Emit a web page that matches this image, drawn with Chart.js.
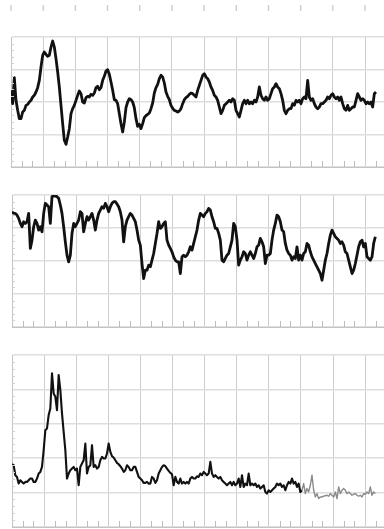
<!DOCTYPE html>
<html><head><meta charset="utf-8">
<script src="https://cdn.jsdelivr.net/npm/chart.js@4.4.0/dist/chart.umd.min.js"></script>
<style>
html,body{margin:0;padding:0;background:#fff;overflow:hidden;}
#wrap{position:relative;width:384px;height:529px;}
canvas{position:absolute;left:0;}
</style></head><body>
<div id="wrap">
<canvas id="c1" width="384" height="172" style="top:0px"></canvas>
<canvas id="c2" width="384" height="156" style="top:176px"></canvas>
<canvas id="c3" width="384" height="189" style="top:340px"></canvas>
</div>
<script>
// Panel 1 series (arbitrary units, bottom axis = 0)
const series1 = [230,190,268,200,170,145,145,165,170,185,188,195,200,210,215,225,238,260,300,335,
345,338,332,335,360,378,360,325,285,240,185,130,80,68,90,115,160,175,185,200,
215,228,220,195,192,208,212,210,218,215,222,238,242,232,238,260,272,288,292,278,
255,230,202,200,190,160,130,105,135,178,195,205,202,195,178,145,122,128,115,130,
148,154,158,162,175,192,222,238,248,265,275,270,252,225,212,202,185,176,170,168,
165,168,175,190,202,208,212,218,222,
220,215,210,230,245,260,275,280,270,265,255,240,230,215,210,200,180,160,170,185,
190,195,200,195,205,200,170,160,150,170,190,200,190,200,190,195,190,200,195,210,
240,215,205,200,210,200,205,220,235,240,250,240,235,220,200,170,160,170,175,175,
190,185,200,195,200,190,205,210,205,260,210,200,205,190,180,175,180,190,190,195,
200,210,205,215,220,210,205,210,200,210,190,175,170,185,170,175,180,180,200,220,
210,200,205,200,190,195,190,195,180,220,225];
// Panel 2 series
const series2 = [345,340,340,335,325,310,300,315,310,315,340,235,260,300,320,310,290,300,285,340,
370,365,360,310,390,392,392,390,385,365,340,300,255,215,195,215,280,310,300,310,
320,345,340,285,310,330,320,330,340,320,290,320,340,350,360,355,370,360,345,360,
370,375,375,368,360,345,320,255,300,320,330,340,335,325,315,290,260,245,190,145,
170,170,185,180,200,220,250,280,315,295,300,310,315,260,245,235,225,210,200,195,
195,160,210,215,210,215,225,240,
230,250,270,290,320,340,335,330,340,345,355,350,330,315,295,295,280,260,200,195,
205,215,220,240,260,310,300,260,185,200,210,225,220,200,215,225,215,205,220,240,
245,265,255,240,190,215,215,220,260,290,310,335,330,315,290,285,250,230,220,215,
200,210,205,240,200,215,200,220,225,250,245,225,210,200,190,180,170,160,140,170,
200,220,250,275,290,280,270,265,260,250,255,245,225,220,200,180,160,170,190,215,
240,255,260,240,250,210,205,200,210,250,270];
// Panel 3 series
const series3 = [188,185,155,150,130,140,135,130,135,135,140,145,145,135,135,145,160,165,180,230,
290,295,335,355,460,400,390,350,455,410,340,285,230,145,160,170,175,180,170,175,
125,180,190,200,250,160,180,185,245,180,185,175,180,200,210,205,205,220,250,225,
212,208,200,192,188,182,175,165,170,185,180,170,170,180,180,165,150,145,140,132,
132,135,130,130,150,145,132,140,160,170,180,185,182,175,168,162,158,125,150,135,
130,145,130,135,130,135,130,145,
150,145,145,152,150,160,155,165,160,155,160,195,160,150,155,150,145,150,140,135,
130,125,130,135,125,135,125,130,145,120,155,120,130,125,160,125,130,125,130,120,
125,115,120,125,105,100,110,105,110,115,120,130,125,130,120,125,110,125,135,130,
145,130,135,120,130,105,110,130,100,115,105,125,155,110,90,100,85,90,90,92,
94,95,92,100,95,90,105,85,120,100,110,115,110,100,105,100,95,98,100,95,
92,95,90,100,98,105,100,120,95,105,100];
const series3GreyFrom = 174;

const minorTicks = {
  id: 'minorTicks',
  afterDraw(chart, args, o) {
    const {ctx, chartArea: a, scales: {x, y}} = chart;
    ctx.save();
    ctx.lineWidth = 1;
    const xs = x.ticks.map(t => t.value);
    const xStep = xs[1] - xs[0];
    ctx.strokeStyle = '#bdbdbd';
    xs.forEach(v => {
      [1/3, 2/3].forEach(f => {
        const px = Math.round(x.getPixelForValue(v + f * xStep)) + 0.5;
        if (px > a.right) return;
        ctx.beginPath(); ctx.moveTo(px, a.bottom); ctx.lineTo(px, a.bottom - 6); ctx.stroke();
      });
    });
    const ys = y.ticks.map(t => t.value);
    const yStep = ys[1] - ys[0];
    ctx.strokeStyle = '#d0d0d0';
    ys.forEach(v => {
      for (let k = 1; k < 5; k++) {
        const val = v + k * yStep / 5;
        if (val >= y.max) continue;
        const py = Math.round(y.getPixelForValue(val)) + 0.5;
        ctx.beginPath(); ctx.moveTo(a.left, py); ctx.lineTo(a.left + 3, py); ctx.stroke();
      }
    });
    if (o.topTicks) {
      ctx.strokeStyle = '#cfcfcf'; ctx.lineWidth = 1.5;
      xs.forEach(v => {
        const px = x.getPixelForValue(v);
        ctx.beginPath(); ctx.moveTo(px, 5); ctx.lineTo(px, 11); ctx.stroke();
      });
    }
    ctx.restore();
  }
};

function makeChart(id, values, cfg) {
  const data = values.map((v, i) => ({x: i, y: v}));
  return new Chart(document.getElementById(id), {
    type: 'line',
    data: {datasets: [{
      data,
      borderColor: '#111',
      borderWidth: cfg.lw,
      borderJoinStyle: 'round',
      pointRadius: 0,
      tension: 0,
      segment: cfg.greyFrom ? {
        borderColor: c => c.p0DataIndex >= cfg.greyFrom ? '#8a8a8a' : '#111',
        borderWidth: c => c.p0DataIndex >= cfg.greyFrom ? 1.4 : cfg.lw
      } : undefined
    }]},
    options: {
      responsive: false,
      animation: false,
      events: [],
      layout: {padding: cfg.pad},
      plugins: {legend: {display: false}, tooltip: {enabled: false}, minorTicks: {topTicks: !!cfg.topTicks}},
      scales: {
        x: {type: 'linear', min: 0, max: cfg.xmax,
            ticks: {display: false, stepSize: cfg.xstep, includeBounds: false},
            grid: {color: '#cdcdcd', lineWidth: 1, drawTicks: false},
            border: {display: true, color: '#c4c4c4'},
            afterFit: s => { s.height = 0; }},
        y: {min: 0, max: cfg.ymax,
            ticks: {display: false, stepSize: cfg.ystep, includeBounds: false},
            grid: {color: '#dedede', lineWidth: 1.5, drawTicks: false},
            border: {display: true, color: '#c4c4c4'},
            afterFit: s => { s.width = 0; }}
      }
    },
    plugins: [minorTicks]
  });
}

makeChart('c1', series1, {pad: {left: 11, top: 37, right: 0, bottom: 5}, xmax: 223.8, xstep: 19.31, ymax: 390, ystep: 97.5, lw: 2.8, topTicks: true});
makeChart('c2', series2, {pad: {left: 12, top: 19, right: 0, bottom: 5}, xmax: 223.2, xstep: 19.26, ymax: 395, ystep: 98.75, lw: 2.8});
makeChart('c3', series3, {pad: {left: 12, top: 15, right: 0, bottom: 2}, xmax: 223.2, xstep: 19.26, ymax: 515, ystep: 103, lw: 2.1, greyFrom: series3GreyFrom});
</script>
</body></html>
